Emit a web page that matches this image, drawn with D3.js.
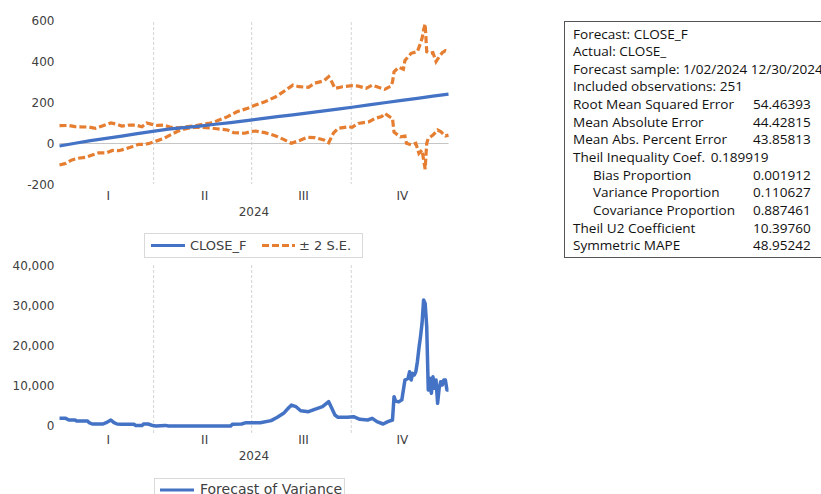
<!DOCTYPE html>
<html>
<head>
<meta charset="utf-8">
<script src="https://cdn.jsdelivr.net/npm/d3@7/dist/d3.min.js"></script>
<style>
  html, body { margin: 0; padding: 0; background: #ffffff; }
  svg { display: block; }
</style>
</head>
<body>
<svg id="chart" width="821" height="494"></svg>
<script>
// ---- Sample: 251 daily observations, 1/02/2024 - 12/30/2024 ----
const nObs = 251;
const quarterLabels = ["I", "II", "III", "IV"];
const quarterBreaks = [60.5, 123.5, 187.5];   // observation positions of quarter boundaries
const yearLabel = "2024";

// Forecast CLOSE_F (observation index, value)
const closeFIdx = [0, 10, 20, 30, 40, 50, 61, 70, 80, 90, 100, 110, 124, 130, 140, 150, 160, 170, 180, 188, 200, 210, 220, 230, 240, 250];
const closeFVal = [-12, 1, 14, 25, 36, 48, 60, 70, 77, 85, 94, 102, 115, 121, 131, 140, 149, 159, 169, 177, 190, 200, 210, 220, 231, 241];

// Upper band, CLOSE_F + 2 S.E.
const upperIdx = [0, 6, 10, 19, 23, 27, 33, 37, 40, 45, 49, 53, 56, 60, 63, 67, 71, 76, 80, 84, 88, 92, 97, 101, 108, 114, 121, 126, 132, 139, 143, 147, 150, 154, 160, 164, 170, 173, 175, 177, 182, 188, 192, 197, 201, 205, 209, 213, 214, 215, 218, 221, 222, 226, 230, 232, 233, 234, 235, 236, 238, 240, 242, 244, 246, 248, 250];
const upperVal = [87, 88, 82, 80, 74, 84, 100, 94, 85, 90, 90, 82, 100, 92, 88, 90, 80, 76, 80, 84, 88, 94, 100, 110, 131, 155, 172, 188, 204, 228, 248, 269, 285, 277, 274, 294, 306, 326, 301, 269, 277, 282, 280, 269, 285, 274, 264, 280, 300, 350, 372, 362, 405, 440, 448, 489, 513, 554, 583, 448, 440, 443, 399, 423, 443, 453, 443];

// Lower band, CLOSE_F - 2 S.E.
const lowerIdx = [0, 4, 8, 12, 17, 21, 25, 30, 34, 38, 42, 47, 51, 55, 58, 63, 67, 71, 76, 80, 84, 88, 92, 97, 101, 108, 112, 119, 123, 126, 132, 139, 144, 149, 154, 159, 164, 170, 173, 176, 179, 186, 188, 192, 199, 203, 207, 209, 212, 214, 215, 219, 222, 223, 226, 229, 231, 233, 234, 235, 236, 237, 240, 243, 245, 248, 250];
const lowerVal = [-105, -97, -80, -72, -67, -56, -46, -46, -34, -35, -27, -15, -4, -4, 1, 14, 25, 41, 60, 70, 76, 80, 78, 76, 72, 66, 53, 50, 58, 61, 53, 37, 20, 1, 14, 30, 29, 17, 4, 50, 74, 82, 79, 98, 106, 123, 131, 147, 131, 123, 55, 33, 36, 1, -7, 1, -48, -32, -80, -125, 1, 25, 41, 66, 58, 37, 41];

// Forecast of variance
const varIdx = [0, 4, 6, 10, 11, 18, 19, 21, 28, 30, 33, 35, 37, 40, 48, 49, 53, 54, 57, 60, 62, 68, 70, 110, 111, 117, 120, 124, 129, 136, 140, 144, 147, 149, 152, 155, 160, 164, 169, 173, 175, 177, 179, 185, 189, 193, 198, 201, 204, 208, 211, 214, 215, 216, 218, 220, 221, 222, 224, 225, 226, 227, 228, 229, 230, 231, 232, 233, 234, 235, 236, 237, 238, 239, 240, 241, 242, 243, 244, 245, 246, 247, 248, 249, 250];
const varVal = [1900, 1900, 1500, 1500, 1250, 1250, 830, 500, 500, 830, 1500, 830, 500, 420, 420, 100, 100, 500, 500, 100, 0, 150, 0, 0, 420, 500, 830, 830, 830, 1330, 2160, 3150, 4400, 5200, 4800, 3800, 3560, 4150, 4800, 6050, 4400, 2740, 2160, 2160, 2320, 1660, 1490, 1900, 1080, 500, 1080, 1490, 7290, 6200, 6000, 6500, 8960, 11440, 11850, 13500, 11440, 13100, 12700, 13500, 16000, 19330, 22200, 25550, 31350, 30500, 24700, 8960, 11870, 8130, 12260, 9380, 11440, 5640, 9380, 11020, 10200, 11440, 11440, 8960, 8960];

const topTicks = [-200, 0, 200, 400, 600];
const bottomTicks = [0, 10000, 20000, 30000, 40000];

// Forecast evaluation table
const statLabels = ["Forecast: CLOSE_F", "Actual: CLOSE_", "Forecast sample: 1/02/2024 12/30/2024", "Included observations: 251",
  "Root Mean Squared Error", "Mean Absolute Error", "Mean Abs. Percent Error", "Theil Inequality Coef.",
  "Bias Proportion", "Variance Proportion", "Covariance Proportion", "Theil U2 Coefficient", "Symmetric MAPE"];
const statValues = ["", "", "", "", "54.46393", "44.42815", "43.85813", "0.189919", "0.001912", "0.110627", "0.887461", "10.39760", "48.95242"];
const statIndent = [0, 0, 0, 0, 0, 0, 0, 0, 1, 1, 1, 0, 0];
const statInline = [false, false, false, false, false, false, false, true, false, false, false, false, false];

const blue = "#4472c4";
const orange = "#e57e31";
const axisText = "#404040";
const font = "DejaVu Sans, sans-serif";
const tableFont = "Open Sans, sans-serif";
const tableStretch = 1.13;   // table text is set slightly wide

const svg = d3.select("#chart");
const fmt = d3.formatLocale({decimal: ".", thousands: ",", grouping: [3], currency: ["$", ""], minus: "-"});

const x = d3.scaleLinear().domain([0, nObs - 1]).range([59.5, 448.5]);
const yTop = d3.scaleLinear().domain([-200, 600]).range([184.5, 20.5]);
const yBot = d3.scaleLinear().domain([0, 40000]).range([426, 265.2]);

const zip = (idx, val) => idx.map((d, i) => [d, val[i]]);

function panel(y, yTicks, tickFmt, yTopPx, yBotPx, qLabelY, yearY) {
  const g = svg.append("g");
  // quarter dividers
  g.selectAll("line.q").data(quarterBreaks).join("line")
    .attr("x1", d => x(d)).attr("x2", d => x(d))
    .attr("y1", yTopPx).attr("y2", yBotPx)
    .attr("stroke", "#d4d4d4").attr("stroke-width", 1).attr("stroke-dasharray", "3,2");
  // y axis labels
  const ax = g.append("g").attr("transform", "translate(54.5,0)")
    .call(d3.axisLeft(y).tickValues(yTicks).tickSize(0).tickPadding(0).tickFormat(tickFmt));
  ax.select(".domain").remove();
  ax.selectAll("text").attr("font-family", font).attr("font-size", 12).attr("fill", axisText);
  // quarter labels
  const bounds = [-0.5, ...quarterBreaks, nObs - 0.5];
  g.selectAll("text.ql").data(quarterLabels).join("text")
    .attr("x", (d, i) => x((bounds[i] + bounds[i + 1]) / 2) + 2)
    .attr("y", qLabelY).attr("text-anchor", "middle")
    .attr("font-family", font).attr("font-size", 12).attr("fill", axisText).text(d => d);
  g.append("text").attr("x", x(125)).attr("y", yearY).attr("text-anchor", "middle")
    .attr("font-family", font).attr("font-size", 12).attr("fill", axisText).text(yearLabel);
  return g;
}

// ---- Top panel: forecast with +/- 2 S.E. ----
const gTop = panel(yTop, topTicks, fmt.format("d"), 22, 184, 199.5, 216);
gTop.append("line").attr("x1", x(0)).attr("x2", x(nObs - 1))
  .attr("y1", yTop(0)).attr("y2", yTop(0)).attr("stroke", "#c6c6c6").attr("stroke-width", 1);

const lineTop = d3.line().x(d => x(d[0])).y(d => yTop(d[1]));
[zip(upperIdx, upperVal), zip(lowerIdx, lowerVal)].forEach(s => {
  gTop.append("path").datum(s).attr("d", lineTop).attr("fill", "none")
    .attr("stroke", orange).attr("stroke-width", 3.2).attr("stroke-dasharray", "7,3");
});
gTop.append("path").datum(zip(closeFIdx, closeFVal)).attr("d", lineTop).attr("fill", "none")
  .attr("stroke", blue).attr("stroke-width", 3.2);

// top legend
const lgTop = svg.append("g");
lgTop.append("rect").attr("x", 144.5).attr("y", 233.5).attr("width", 218).attr("height", 24)
  .attr("fill", "#fff").attr("stroke", "#d9d9d9");
lgTop.append("line").attr("x1", 151).attr("x2", 185).attr("y1", 245.5).attr("y2", 245.5)
  .attr("stroke", blue).attr("stroke-width", 3);
lgTop.append("text").attr("x", 190).attr("y", 250).attr("font-family", font).attr("font-size", 13)
  .attr("fill", axisText).text("CLOSE_F");
lgTop.append("line").attr("x1", 262).attr("x2", 295).attr("y1", 245.5).attr("y2", 245.5)
  .attr("stroke", orange).attr("stroke-width", 3).attr("stroke-dasharray", "7,3");
lgTop.append("text").attr("x", 299).attr("y", 250).attr("font-family", font).attr("font-size", 13)
  .attr("fill", axisText).text("\u00b1 2 S.E.");

// ---- Bottom panel: forecast of variance ----
const gBot = panel(yBot, bottomTicks, fmt.format(","), 265, 433, 444, 460);
const lineBot = d3.line().x(d => x(d[0])).y(d => yBot(d[1]));
gBot.append("path").datum(zip(varIdx, varVal)).attr("d", lineBot).attr("fill", "none")
  .attr("stroke", blue).attr("stroke-width", 3.5).attr("stroke-linejoin", "round");

const lgBot = svg.append("g");
lgBot.append("rect").attr("x", 154.5).attr("y", 478.5).attr("width", 190).attr("height", 30)
  .attr("fill", "#fff").attr("stroke", "#d9d9d9");
lgBot.append("line").attr("x1", 160).attr("x2", 194).attr("y1", 490).attr("y2", 490)
  .attr("stroke", blue).attr("stroke-width", 3);
lgBot.append("text").attr("x", 200).attr("y", 494).attr("font-family", font).attr("font-size", 14)
  .attr("fill", axisText).text("Forecast of Variance");

// ---- Evaluation table ----
const tbl = svg.append("g");
tbl.append("rect").attr("x", 564.5).attr("y", 21.5).attr("width", 300).attr("height", 236)
  .attr("fill", "#fff").attr("stroke", "#555").attr("stroke-width", 1);
const rowY = i => 38.5 + i * 17.64;
function cell(xPos, yPos) {
  return tbl.append("text")
    .attr("transform", `translate(${xPos},${yPos}) scale(${tableStretch},1)`)
    .attr("font-family", tableFont).attr("font-size", 12).attr("fill", "#111");
}
statLabels.forEach((lab, i) => {
  const t = cell(statIndent[i] ? 593 : 573, rowY(i)).text(lab);
  if (statInline[i]) {
    t.append("tspan").attr("dx", 5).text(statValues[i]);
  } else if (statValues[i]) {
    cell(753, rowY(i)).text(statValues[i]);
  }
});
</script>
</body>
</html>
